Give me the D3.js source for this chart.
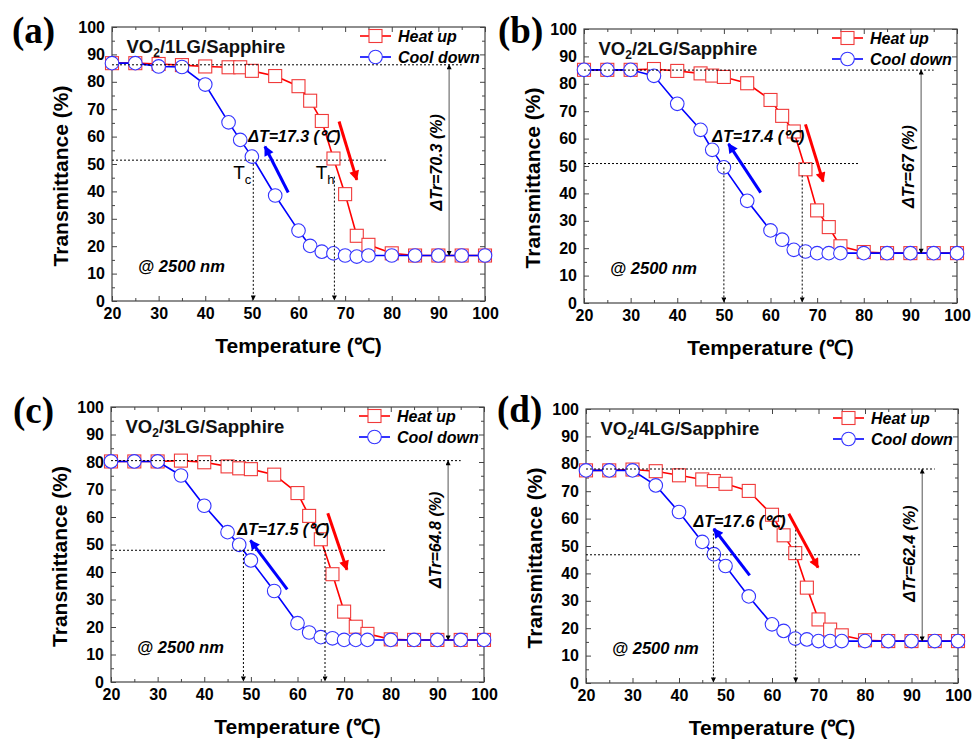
<!DOCTYPE html>
<html>
<head>
<meta charset="utf-8">
<script src="https://cdnjs.cloudflare.com/ajax/libs/d3/7.8.5/d3.min.js"></script>
<style>
  body { margin: 0; background: white; }
  text { font-family: "Liberation Sans", Arial, sans-serif; }
  text.letter { font-family: "Liberation Serif", "Times New Roman", serif; }
</style>
</head>
<body>
<script>
  // temperatures (°C) shared by all four samples
  let temps = [20, 25, 30, 35, 40, 45, 47.5, 50, 55, 60, 62.5, 65, 67.5, 70, 72.5, 75, 80, 85, 90, 95, 100];

  // transmittance (%)
  let heatA = [86.8, 86.8, 86.5, 86.1, 85.6, 85.3, 85.3, 84.0, 82.1, 78.4, 73.1, 65.7, 52.0, 39.0, 23.8, 20.5, 17.4, 16.6, 16.6, 16.6, 16.6];
  let coolA = [86.8, 86.8, 85.6, 85.4, 79.0, 65.2, 58.8, 52.7, 38.5, 25.7, 20.1, 18.0, 17.4, 16.6, 16.2, 16.6, 16.6, 16.6, 16.6, 16.6, 16.6];
  let heatB = [85.1, 85.1, 85.1, 85.4, 84.7, 83.8, 83.0, 82.5, 80.2, 74.1, 68.3, 62.6, 48.8, 33.8, 27.7, 20.7, 18.6, 18.2, 18.2, 18.2, 18.2];
  let coolB = [85.1, 85.1, 85.1, 82.9, 72.7, 63.2, 55.9, 49.5, 37.3, 26.5, 23.1, 19.4, 18.8, 18.2, 18.2, 18.2, 18.2, 18.2, 18.2, 18.2, 18.2];
  let heatC = [80.2, 80.2, 80.2, 80.5, 79.9, 78.4, 77.7, 77.4, 75.4, 68.7, 60.4, 51.9, 39.2, 25.6, 20.1, 17.5, 15.5, 15.3, 15.3, 15.3, 15.3];
  let coolC = [80.2, 80.2, 80.2, 75.1, 64.1, 54.5, 49.9, 44.2, 33.1, 21.4, 18.0, 16.3, 15.9, 15.3, 15.3, 15.3, 15.3, 15.3, 15.3, 15.3, 15.3];
  let heatD = [77.6, 77.6, 77.9, 77.3, 75.8, 74.3, 73.7, 72.7, 70.1, 61.4, 53.9, 47.4, 34.8, 23.2, 19.5, 17.4, 15.6, 15.3, 15.3, 15.3, 15.3];
  let coolD = [77.6, 77.6, 77.6, 72.1, 62.4, 51.5, 47.0, 42.7, 31.6, 21.4, 19.0, 16.2, 15.9, 15.3, 15.3, 15.3, 15.3, 15.3, 15.3, 15.3, 15.3];

  let heatSets = [heatA, heatB, heatC, heatD];
  let coolSets = [coolA, coolB, coolC, coolD];
  let panelLetters = ["(a)", "(b)", "(c)", "(d)"];
  let samples = ["1LG", "2LG", "3LG", "4LG"];
  let deltaT = ["17.3", "17.4", "17.5", "17.6"];
  let deltaTr = ["70.3", "67", "64.8", "62.4"];
  let highLevel = [86.2, 85.0, 80.5, 78.1];   // dotted line at the insulating level
  let midLevel = [51.4, 50.9, 47.9, 46.8];    // half-way level
  let tcTemp = [50.3, 50.0, 48.4, 47.4];
  let thTemp = [67.7, 66.8, 65.9, 65.1];
  let lowLevel = [16.6, 18.2, 15.3, 15.3];
  let xTicks = [20, 30, 40, 50, 60, 70, 80, 90, 100];
  let yTicks = [0, 10, 20, 30, 40, 50, 60, 70, 80, 90, 100];

  // where things sit; annotation spots are in data units of each panel
  let layout = [
    {x0: 112, x1: 485, y0: 27, y1: 301, lx: 12, ly: 43, tcTop: 51.5, thTop: 45.4, dTx: 49.2, dTy: 57.9, trY: 50.6,
     blue: [57.8, 39.6, 52.8, 56.4], red: [68.7, 65.5, 72.5, 44.2]},
    {x0: 584, x1: 957, y0: 29, y1: 303, lx: 498, ly: 43, tcTop: 49.5, thTop: 46.5, dTx: 47.5, dTy: 58.9, trY: 49.8,
     blue: [57.9, 40.3, 51.0, 58.1], red: [67.5, 65.2, 71.3, 44.3]},
    {x0: 111, x1: 484, y0: 407, y1: 682, lx: 13, ly: 423, tcTop: 48, thTop: 48, dTx: 47.1, dTy: 53.5, trY: 51.7,
     blue: [57.8, 33.7, 49.9, 51.5], red: [66.5, 61.4, 70.6, 40.8]},
    {x0: 586, x1: 958, y0: 409, y1: 683, lx: 497, ly: 422, tcTop: 56, thTop: 56, dTx: 43.1, dTy: 56.9, trY: 47.2,
     blue: [55.2, 39.3, 47.5, 56.3], red: [63.6, 61.8, 69.9, 42.1]}
  ];

  let svg = d3.select("body").append("svg").attr("width", 973).attr("height", 740);

  let defs = svg.append("defs");
  function arrowHead(id, color, len, wid) {
    defs.append("marker")
      .attr("id", id)
      .attr("markerUnits", "userSpaceOnUse")
      .attr("viewBox", "0 0 10 10")
      .attr("refX", 9).attr("refY", 5)
      .attr("markerWidth", len).attr("markerHeight", wid)
      .attr("orient", "auto-start-reverse")
      .append("path").attr("d", "M0,0 L10,5 L0,10 Z").attr("fill", color);
  }
  arrowHead("redHead", "#ff0000", 13, 10);
  arrowHead("blueHead", "#0000ff", 13, 10);
  arrowHead("blackHead", "#000", 6, 5);

  layout.forEach(function(L, i) {
    let x = d3.scaleLinear().domain([20, 100]).range([L.x0, L.x1]);
    let y = d3.scaleLinear().domain([0, 100]).range([L.y1, L.y0]);
    let g = svg.append("g");

    // axes, ticks point inward on all four sides
    g.append("g").attr("transform", "translate(0," + L.y1 + ")")
      .call(d3.axisBottom(x).tickValues(xTicks).tickSize(-5).tickPadding(7));
    g.append("g").attr("transform", "translate(0," + L.y1 + ")")
      .call(d3.axisBottom(x).tickValues(d3.range(25, 100, 10)).tickSize(-3).tickFormat(""));
    g.append("g").attr("transform", "translate(" + L.x0 + ",0)")
      .call(d3.axisLeft(y).tickValues(yTicks).tickSize(-5).tickPadding(7));
    g.append("g").attr("transform", "translate(" + L.x0 + ",0)")
      .call(d3.axisLeft(y).tickValues(d3.range(5, 100, 10)).tickSize(-3).tickFormat(""));
    g.append("g").attr("transform", "translate(0," + L.y0 + ")")
      .call(d3.axisTop(x).tickValues(xTicks).tickSize(-5).tickFormat(""));
    g.append("g").attr("transform", "translate(0," + L.y0 + ")")
      .call(d3.axisTop(x).tickValues(d3.range(25, 100, 10)).tickSize(-3).tickFormat(""));
    g.append("g").attr("transform", "translate(" + L.x1 + ",0)")
      .call(d3.axisRight(y).tickValues(yTicks).tickSize(-5).tickFormat(""));
    g.append("g").attr("transform", "translate(" + L.x1 + ",0)")
      .call(d3.axisRight(y).tickValues(d3.range(5, 100, 10)).tickSize(-3).tickFormat(""));
    g.selectAll(".domain").remove();
    g.selectAll(".tick line").attr("stroke", "#444");
    g.selectAll(".tick text").attr("font-size", 16).attr("font-weight", "bold").attr("fill", "#000");

    g.append("rect")
      .attr("x", L.x0).attr("y", L.y0)
      .attr("width", L.x1 - L.x0).attr("height", L.y1 - L.y0)
      .attr("fill", "none").attr("stroke", "#444").attr("stroke-width", 1.2);

    // axis titles
    g.append("text")
      .attr("transform", "translate(" + (L.x0 - 52) + "," + ((L.y0 + L.y1) / 2 + 12) + ") rotate(-90)")
      .attr("text-anchor", "middle").attr("dominant-baseline", "central")
      .attr("font-size", 21).attr("font-weight", "bold")
      .text("Transmittance (%)");
    g.append("text")
      .attr("x", (L.x0 + L.x1) / 2).attr("y", L.y1 + 52)
      .attr("text-anchor", "middle")
      .attr("font-size", 21).attr("font-weight", "bold")
      .text("Temperature (℃)");

    // panel letter
    g.append("text").attr("class", "letter")
      .attr("x", L.lx).attr("y", L.ly)
      .attr("font-size", 37).attr("font-weight", "bold")
      .text(panelLetters[i]);

    // sample title
    let title = g.append("text")
      .attr("x", x(23.1)).attr("y", y(90.5))
      .attr("font-size", 18.5).attr("font-weight", "bold").attr("fill", "#111");
    title.append("tspan").text("VO");
    title.append("tspan").attr("font-size", 12).attr("dy", 4).text("2");
    title.append("tspan").attr("dy", -4).text("/" + samples[i] + "/Sapphire");

    g.append("text")
      .attr("x", x(25.6)).attr("y", y(10.7))
      .attr("font-size", 16.5).attr("font-weight", "bold").attr("font-style", "italic")
      .text("@ 2500 nm");

    // data
    let heat = temps.map(function(t, k) { return {t: t, v: heatSets[i][k]}; });
    let cool = temps.map(function(t, k) { return {t: t, v: coolSets[i][k]}; });
    let line = d3.line().x(function(d) { return x(d.t); }).y(function(d) { return y(d.v); });

    g.append("path").datum(heat).attr("d", line)
      .attr("fill", "none").attr("stroke", "#ff0000").attr("stroke-width", 1.6);
    g.selectAll(".sq").data(heat).enter().append("rect").attr("class", "sq")
      .attr("x", function(d) { return x(d.t) - 6.5; })
      .attr("y", function(d) { return y(d.v) - 6.5; })
      .attr("width", 13).attr("height", 13)
      .attr("fill", "white").attr("stroke", "#f03a3a").attr("stroke-width", 1.1);

    g.append("path").datum(cool).attr("d", line)
      .attr("fill", "none").attr("stroke", "#0000ff").attr("stroke-width", 1.6);
    g.selectAll(".ci").data(cool).enter().append("circle").attr("class", "ci")
      .attr("cx", function(d) { return x(d.t); })
      .attr("cy", function(d) { return y(d.v); })
      .attr("r", 6.8)
      .attr("fill", "white").attr("stroke", "#3434ff").attr("stroke-width", 1.1);

    // dotted guide lines
    let dotted = function(sel) {
      return sel.attr("stroke", "#000").attr("stroke-width", 1).attr("stroke-dasharray", "2,2").attr("fill", "none");
    };
    dotted(g.append("line").attr("x1", x(20)).attr("x2", x(95)).attr("y1", y(highLevel[i])).attr("y2", y(highLevel[i])));
    dotted(g.append("line").attr("x1", x(20)).attr("x2", x(79)).attr("y1", y(midLevel[i])).attr("y2", y(midLevel[i])));
    dotted(g.append("line").attr("x1", x(tcTemp[i])).attr("x2", x(tcTemp[i])).attr("y1", y(L.tcTop)).attr("y2", y(0) - 1))
      .attr("marker-end", "url(#blackHead)");
    dotted(g.append("line").attr("x1", x(thTemp[i])).attr("x2", x(thTemp[i])).attr("y1", y(L.thTop)).attr("y2", y(0) - 1))
      .attr("marker-end", "url(#blackHead)");

    // ΔTr double arrow
    g.append("line")
      .attr("x1", x(92.3)).attr("x2", x(92.3))
      .attr("y1", y(highLevel[i])).attr("y2", y(lowLevel[i]))
      .attr("stroke", "#555").attr("stroke-width", 1)
      .attr("marker-start", "url(#blackHead)").attr("marker-end", "url(#blackHead)");
    g.append("text")
      .attr("transform", "translate(" + (x(92.3) - 13) + "," + y(L.trY) + ") rotate(-90)")
      .attr("text-anchor", "middle").attr("dominant-baseline", "central")
      .attr("font-size", 16).attr("font-weight", "bold").attr("font-style", "italic")
      .text("ΔTr=" + deltaTr[i] + " (%)");

    // ΔT label and direction arrows
    g.append("text")
      .attr("x", x(L.dTx)).attr("y", y(L.dTy))
      .attr("font-size", 16).attr("font-weight", "bold").attr("font-style", "italic")
      .text("ΔT=" + deltaT[i] + " (℃)");
    g.append("line")
      .attr("x1", x(L.blue[0])).attr("y1", y(L.blue[1]))
      .attr("x2", x(L.blue[2])).attr("y2", y(L.blue[3]))
      .attr("stroke", "#0000ff").attr("stroke-width", 3)
      .attr("marker-end", "url(#blueHead)");
    g.append("line")
      .attr("x1", x(L.red[0])).attr("y1", y(L.red[1]))
      .attr("x2", x(L.red[2])).attr("y2", y(L.red[3]))
      .attr("stroke", "#ff0000").attr("stroke-width", 3)
      .attr("marker-end", "url(#redHead)");

    // Tc / Th marks only on the first panel
    if (i == 0) {
      [["T", "c", 46.0], ["T", "h", 63.7]].forEach(function(p) {
        let t = g.append("text").attr("x", x(p[2])).attr("y", y(44.6)).attr("font-size", 19);
        t.append("tspan").text(p[0]);
        t.append("tspan").attr("font-size", 13).attr("dy", 5).text(p[1]);
      });
    }

    // legend
    let legend = [["Heat up", "#ff0000", "#f03a3a", "sq"], ["Cool down", "#0000ff", "#3434ff", "ci"]];
    legend.forEach(function(e, k) {
      let ly = L.y0 + 9 + k * 21;
      g.append("line").attr("x1", L.x1 - 125).attr("x2", L.x1 - 94).attr("y1", ly).attr("y2", ly)
        .attr("stroke", e[1]).attr("stroke-width", 1.6);
      if (e[3] == "sq") {
        g.append("rect").attr("x", L.x1 - 109.5 - 6.5).attr("y", ly - 6.5).attr("width", 13).attr("height", 13)
          .attr("fill", "white").attr("stroke", e[2]).attr("stroke-width", 1.1);
      } else {
        g.append("circle").attr("cx", L.x1 - 109.5).attr("cy", ly).attr("r", 6.8)
          .attr("fill", "white").attr("stroke", e[2]).attr("stroke-width", 1.1);
      }
      g.append("text").attr("x", L.x1 - 87).attr("y", ly + 6)
        .attr("font-size", 16).attr("font-weight", "bold").attr("font-style", "italic")
        .text(e[0]);
    });
  });
</script>
</body>
</html>
